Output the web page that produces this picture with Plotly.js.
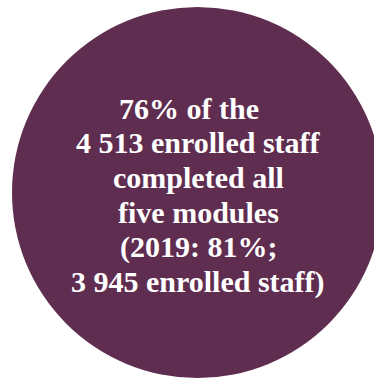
<!DOCTYPE html>
<html>
<head>
<meta charset="utf-8">
<script src="https://cdn.plot.ly/plotly-3.0.1.min.js"></script>
<style>html,body{margin:0;padding:0;background:#fff;}#chart{width:374px;height:379px;}</style>
</head>
<body>
<div id="chart"></div>
<script>
// Values shown in the infographic
var completedPct = 76;
var enrolledStaff = "4 513";
var modules = "five";
var priorYear = 2019;
var priorPct = 81;
var priorEnrolled = "3 945";

var lines = [
  completedPct + "% of the",
  enrolledStaff + " enrolled staff",
  "completed all",
  modules + " modules",
  "(" + priorYear + ": " + priorPct + "%;",
  priorEnrolled + " enrolled staff)"
];

var circleColor = "#5f2d4f";
var firstBaseline = 118, lineGap = 34.8, cx = 198;

var annotations = lines.map(function (t, i) {
  return {
    x: cx, y: firstBaseline + i * lineGap - 10, xref: "x", yref: "y",
    text: "<b>" + t + "</b>", showarrow: false,
    xanchor: "center", yanchor: "middle",
    xshift: i === 0 ? -9 : 0,
    font: {family: "Liberation Serif", size: 30, color: "#ffffff"}
  };
});

var layout = {
  width: 374, height: 379,
  margin: {l: 0, r: 0, t: 0, b: 0},
  font: {family: "Liberation Serif"},
  paper_bgcolor: "#ffffff", plot_bgcolor: "#ffffff",
  xaxis: {range: [0, 374], visible: false, fixedrange: true},
  yaxis: {range: [379, 0], visible: false, fixedrange: true},
  showlegend: false,
  shapes: [{
    type: "circle", xref: "x", yref: "y",
    x0: 12, x1: 383, y0: 7, y1: 378,
    fillcolor: circleColor, line: {width: 0}, layer: "below"
  }],
  annotations: annotations
};

Plotly.newPlot("chart", [{x: [], y: [], type: "scatter", mode: "markers", hoverinfo: "skip"}], layout, {staticPlot: true, displayModeBar: false});
</script>
</body>
</html>
